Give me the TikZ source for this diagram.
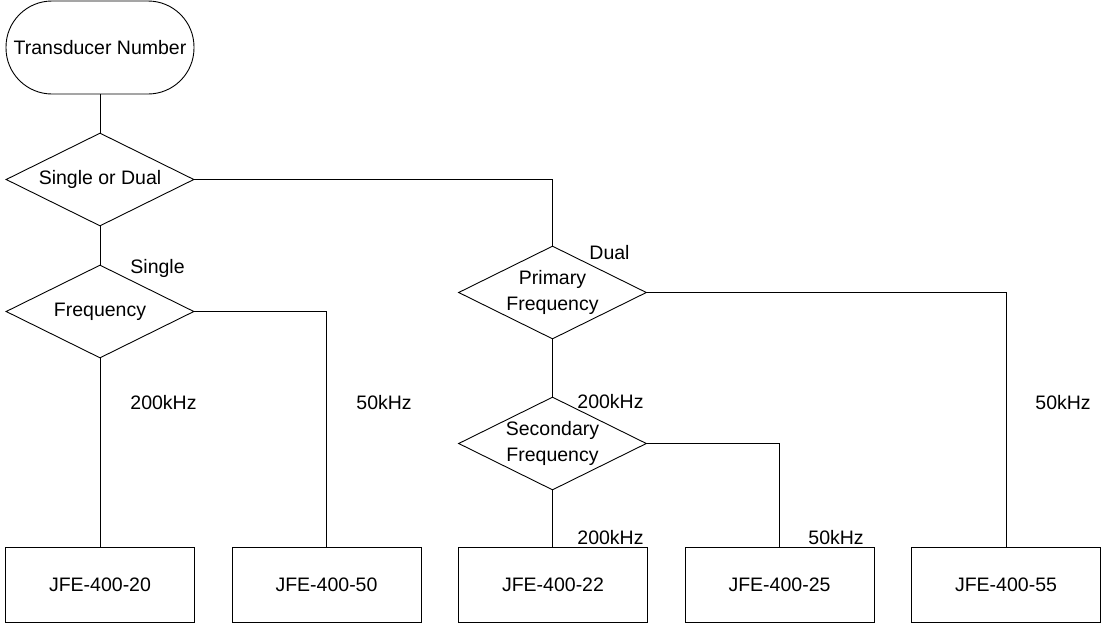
\documentclass[tikz,border=0pt]{standalone}
\usepackage{fontspec}
\setmainfont{Liberation Sans}
\usetikzlibrary{shapes.geometric,positioning}
\tikzset{
  terminal/.style={draw, rectangle, rounded corners=46pt, minimum width=188pt, minimum height=93pt, inner sep=0pt},
  decision/.style={draw, diamond, aspect=2, inner sep=0pt, minimum width=188pt, minimum height=93pt, align=center},
  product/.style={draw, rectangle, minimum width=189pt, minimum height=75pt, inner sep=0pt},
  branch/.style={anchor=west, inner sep=0pt},
  link/.style={draw=black, line width=0.9pt}
}

\begin{document}
\begin{tikzpicture}[x=1pt, y=-1pt, line width=0.9pt, font=\fontsize{19.5pt}{26pt}\selectfont]
\useasboundingbox (0,0) rectangle (1101,624);

% start and questions
\node[terminal] (start) at (100,47.5) {Transducer Number};
\node[decision] (kind) at (100,179.5) {Single or Dual};
\node[decision] (freq) at (100,311.5) {Frequency};
\node[decision] (prim) at (552.5,292.5) {Primary\\Frequency};
\node[decision] (sec) at (552.5,443.5) {Secondary\\Frequency};

% products
\node[product] (p20) at (100,584.5) {JFE-400-20};
\node[product, right=36.6pt of p20] (p50) {JFE-400-50};
\node[product, right=36.6pt of p50] (p22) {JFE-400-22};
\node[product, right=36.6pt of p22] (p25) {JFE-400-25};
\node[product, right=36.6pt of p25] (p55) {JFE-400-55};

% connectors
\draw[link] (start) -- (kind);
\draw[link] (kind.east) -| (prim.north);
\draw[link] (kind) -- (freq);
\draw[link] (freq.south) -- (freq.south |- p20.north);
\draw[link] (freq.east) -| (p50.north);
\draw[link] (prim) -- (sec);
\draw[link] (prim.east) -| (p55.north);
\draw[link] (sec.south) -- (sec.south |- p22.north);
\draw[link] (sec.east) -| (p25.north);

% branch labels
\node[branch] (lsingle) at (130,268) {Single};
\node[branch] (ldual) at (589,253) {Dual};
\node[branch] (lf200) at (130,403) {200kHz};
\node[branch] (lf50) at (356,403) {50kHz};
\node[branch] (lp200) at (577,402) {200kHz};
\node[branch] (lp50) at (1035,403) {50kHz};
\node[branch] (ls200) at (577,538) {200kHz};
\node[branch] (ls50) at (808,538) {50kHz};

\end{tikzpicture}
\end{document}
